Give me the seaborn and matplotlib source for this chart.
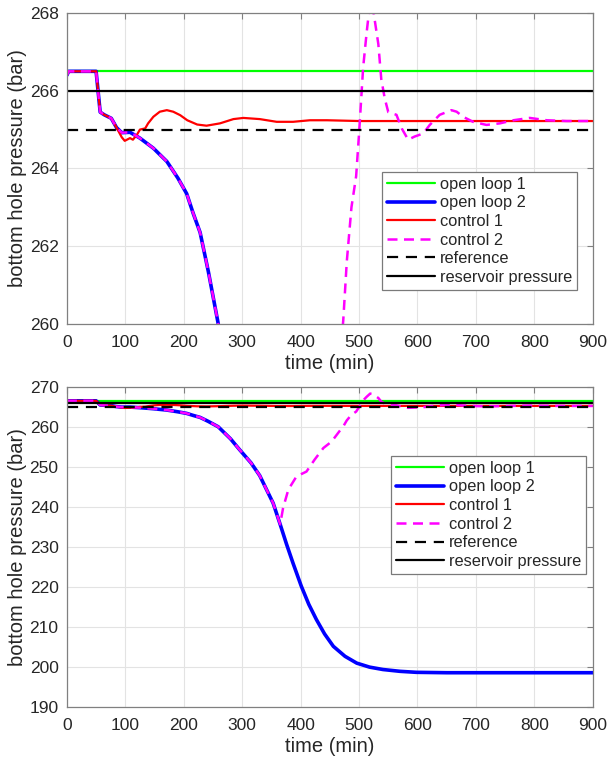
import numpy as np
import pandas as pd
import matplotlib
matplotlib.use('Agg')
import matplotlib.pyplot as plt
import seaborn as sns

# time axis (min) and pressures (bar)
t_open2 = [0, 3, 50, 57, 64, 76, 85, 94, 108, 125, 148, 171, 190, 205, 216, 228, 242, 259,
           280, 296, 315, 330, 345, 353, 365, 376, 387, 401, 414, 427, 441, 456, 476, 496,
           518, 541, 570, 598, 650, 700, 900]
p_open2 = [266.4, 266.5, 266.5, 265.45, 265.38, 265.29, 265.05, 264.92, 264.93, 264.78, 264.52,
           264.18, 263.75, 263.35, 262.85, 262.35, 261.35, 260.0, 257.0, 254.2, 251.0, 247.8,
           243.3, 240.9, 235.6, 230.6, 225.9, 220.2, 215.6, 211.8, 208.2, 205.1, 202.6, 200.9,
           199.9, 199.3, 198.85, 198.6, 198.5, 198.5, 198.5]

t_ctrl1 = [0, 3, 50, 57, 64, 76, 85, 94, 99, 108, 113, 120, 125, 134, 139, 148, 159, 171, 182,
           194, 206, 223, 239, 262, 285, 302, 330, 359, 387, 416, 445, 500, 600, 700, 800, 900]
p_ctrl1 = [266.4, 266.5, 266.5, 265.45, 265.38, 265.29, 265.05, 264.8, 264.71, 264.78, 264.74,
           264.87, 265.0, 265.03, 265.16, 265.33, 265.46, 265.5, 265.46, 265.37, 265.24, 265.13,
           265.1, 265.16, 265.27, 265.3, 265.27, 265.2, 265.2, 265.24, 265.24, 265.22, 265.22,
           265.22, 265.22, 265.22]

# control 2 follows open loop 2 up to t = 365 min, then recovers
t_ctrl2_tail = [370, 379, 393, 410, 424, 439, 453, 467, 473, 479, 487, 495, 500, 507, 513, 519,
                523, 527, 533, 538, 544, 550, 564, 573, 584, 595, 610, 621, 638, 658, 667, 678,
                695, 718, 741, 764, 792, 821, 855, 900]
p_ctrl2_tail = [239.7, 244.3, 247.6, 248.8, 251.8, 254.7, 256.3, 259.0, 260.1, 261.6, 263.0,
                263.8, 264.9, 266.6, 267.5, 268.3, 268.2, 267.8, 267.2, 266.3, 265.8, 265.45,
                265.38, 265.03, 264.74, 264.82, 264.9, 265.12, 265.38, 265.5, 265.46, 265.33,
                265.2, 265.12, 265.16, 265.24, 265.3, 265.24, 265.22, 265.22]

t_const = [0, 900]
p_open1 = [266.5, 266.5]
p_reference = [265.0, 265.0]
p_reservoir = [266.0, 266.0]

n_head = t_open2.index(365) + 1
t_ctrl2 = t_open2[:n_head] + t_ctrl2_tail
p_ctrl2 = p_open2[:n_head] + p_ctrl2_tail

series = [
    ('open loop 1', t_const, p_open1, '#00ff00', 1.6, '-'),
    ('open loop 2', t_open2, p_open2, '#0000ff', 2.6, '-'),
    ('control 1', t_ctrl1, p_ctrl1, '#ff0000', 1.6, '-'),
    ('control 2', t_ctrl2, p_ctrl2, '#ff00ff', 1.8, (0, (4, 2.6))),
    ('reference', t_const, p_reference, 'black', 1.6, (0, (5, 3.5))),
    ('reservoir pressure', t_const, p_reservoir, 'black', 1.6, '-'),
]

sns.set_style('white')
plt.rcParams['font.family'] = ['Liberation Sans', 'DejaVu Sans']

fig = plt.figure(figsize=(6.08, 7.69), dpi=100)
ax_top = fig.add_axes([0.110, 0.579, 0.865, 0.404])
ax_bot = fig.add_axes([0.110, 0.081, 0.865, 0.416])

axis_grey = '#808080'
text_col = '#262626'

for ax, ylim, yticks, leg_anchor in [
        (ax_top, (260, 268), np.arange(260, 269, 2), (0.970, 0.489)),
        (ax_bot, (190, 270), np.arange(190, 271, 10), (0.987, 0.784))]:
    for name, tt, pp, col, lw, ls in series:
        df = pd.DataFrame({'time': tt, 'pressure': pp})
        sns.lineplot(data=df, x='time', y='pressure', ax=ax, color=col, lw=lw,
                     linestyle=ls, label=name, estimator=None)
    ax.set_xlim(0, 900)
    ax.set_ylim(*ylim)
    ax.set_xticks(np.arange(0, 901, 100))
    ax.set_yticks(yticks)
    ax.grid(True, color='#e3e3e3', lw=0.8)
    ax.set_axisbelow(True)
    for s in ax.spines.values():
        s.set_color(axis_grey)
        s.set_linewidth(0.9)
    ax.tick_params(direction='in', length=4, width=0.8, color=axis_grey,
                   top=True, right=True, labelsize=12.5, labelcolor=text_col)
    ax.tick_params(axis='x', pad=8)
    ax.tick_params(axis='y', pad=6)
    ax.set_xlabel('time (min)', fontsize=14.5, color=text_col, labelpad=3)
    ax.set_ylabel('bottom hole pressure (bar)', fontsize=14.5, color=text_col, labelpad=2)
    leg = ax.legend(loc='upper right', bbox_to_anchor=leg_anchor, fontsize=11.8,
                    frameon=True, fancybox=False, framealpha=1, edgecolor='#7a7a7a',
                    handlelength=2.9, handletextpad=0.3, labelspacing=0.22,
                    borderpad=0.3, borderaxespad=0)
    leg.get_frame().set_linewidth(0.9)

fig.savefig('out.png', dpi=100)
